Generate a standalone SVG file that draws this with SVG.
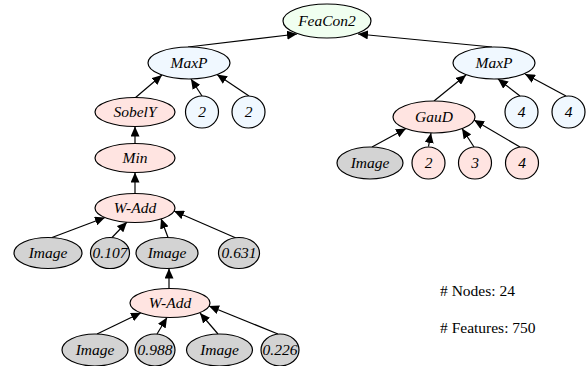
<svg xmlns="http://www.w3.org/2000/svg" width="587" height="366" viewBox="0 0 587 366">
<defs>
<marker id="arr" markerUnits="userSpaceOnUse" markerWidth="11" markerHeight="9" refX="10" refY="4.5" orient="auto">
<path d="M0,0 L10,4.5 L0,9 z" fill="#000"/>
</marker>
<style>
.n ellipse{stroke:#000;stroke-width:1.2}
.g ellipse{fill:#f0fff0}
.b ellipse{fill:#f0f8ff}
.r ellipse{fill:#ffe4e1}
.k ellipse{fill:#d3d3d3}
.n text{font-style:italic;font-size:15.5px;text-anchor:middle;fill:#000}
#edges line{stroke:#000;stroke-width:1.2;marker-end:url(#arr)}
.info{font-size:15.5px;fill:#000}
</style>
</defs>
<rect width="587" height="366" fill="#fff"/>
<g id="edges">
<line x1="188" y1="47" x2="297" y2="34"/>
<line x1="492" y1="47" x2="358" y2="34"/>
<line x1="135" y1="98" x2="162" y2="75"/>
<line x1="202" y1="96" x2="191" y2="79"/>
<line x1="249" y1="96" x2="217" y2="74.5"/>
<line x1="135" y1="143.5" x2="135" y2="126.5"/>
<line x1="135" y1="193.5" x2="135" y2="172.5"/>
<line x1="52" y1="237.5" x2="105" y2="217.5"/>
<line x1="112" y1="237.5" x2="127" y2="222"/>
<line x1="168" y1="237.5" x2="161" y2="218.5"/>
<line x1="236" y1="238" x2="174" y2="211"/>
<line x1="169" y1="288.5" x2="169" y2="268.5"/>
<line x1="97" y1="334" x2="141" y2="312.8"/>
<line x1="157" y1="334" x2="167" y2="317.5"/>
<line x1="218" y1="334" x2="200" y2="313"/>
<line x1="278" y1="334" x2="209" y2="306"/>
<line x1="434" y1="101" x2="466" y2="75"/>
<line x1="520" y1="96" x2="498" y2="79"/>
<line x1="566" y1="96" x2="525" y2="74"/>
<line x1="372" y1="147" x2="406" y2="128.5"/>
<line x1="428.5" y1="146.5" x2="431" y2="133"/>
<line x1="474" y1="147" x2="462" y2="128.5"/>
<line x1="520" y1="147" x2="474" y2="120"/>
</g>
<g font-family="'Liberation Serif', 'DejaVu Serif', serif">
<g id="feacon2" class="n g"><ellipse cx="327" cy="21" rx="44" ry="17"/><text x="327" y="26">FeaCon2</text></g>
<g id="maxp-l" class="n b"><ellipse cx="189" cy="63" rx="41" ry="16"/><text x="189" y="68">MaxP</text></g>
<g id="maxp-r" class="n b"><ellipse cx="494" cy="63" rx="41" ry="16"/><text x="494" y="68">MaxP</text></g>
<g id="sobely" class="n r"><ellipse cx="135" cy="112" rx="40" ry="14.5"/><text x="135" y="117">SobelY</text></g>
<g id="p2a" class="n b"><ellipse cx="202" cy="112" rx="16.5" ry="16"/><text x="202" y="117">2</text></g>
<g id="p2b" class="n b"><ellipse cx="248.5" cy="112" rx="16.5" ry="16"/><text x="248.5" y="117">2</text></g>
<g id="p4a" class="n b"><ellipse cx="521.5" cy="112" rx="16.5" ry="16"/><text x="521.5" y="117">4</text></g>
<g id="p4b" class="n b"><ellipse cx="568.5" cy="112" rx="16.5" ry="16"/><text x="568.5" y="117">4</text></g>
<g id="gaud" class="n r"><ellipse cx="434" cy="117" rx="41" ry="16"/><text x="434" y="122">GauD</text></g>
<g id="min" class="n r"><ellipse cx="135" cy="158" rx="40" ry="14.5"/><text x="135" y="163">Min</text></g>
<g id="img-r" class="n k"><ellipse cx="370" cy="163" rx="33" ry="16"/><text x="370" y="168">Image</text></g>
<g id="g2" class="n r"><ellipse cx="428.5" cy="163" rx="16.5" ry="16"/><text x="428.5" y="168">2</text></g>
<g id="g3" class="n r"><ellipse cx="475" cy="163" rx="16.5" ry="16"/><text x="475" y="168">3</text></g>
<g id="g4" class="n r"><ellipse cx="522" cy="163" rx="16.5" ry="16"/><text x="522" y="168">4</text></g>
<g id="wadd1" class="n r"><ellipse cx="135" cy="208" rx="40" ry="14.5"/><text x="135" y="213">W-Add</text></g>
<g id="img1" class="n k"><ellipse cx="48" cy="253" rx="34" ry="15.5"/><text x="48" y="258">Image</text></g>
<g id="v107" class="n k"><ellipse cx="110" cy="253" rx="19.5" ry="15.5"/><text x="110" y="258">0.107</text></g>
<g id="img2" class="n k"><ellipse cx="167" cy="253" rx="31" ry="15.5"/><text x="167" y="258">Image</text></g>
<g id="v631" class="n k"><ellipse cx="239" cy="253" rx="20.5" ry="15.5"/><text x="239" y="258">0.631</text></g>
<g id="wadd2" class="n r"><ellipse cx="170" cy="303" rx="40" ry="14.5"/><text x="170" y="308">W-Add</text></g>
<g id="img3" class="n k"><ellipse cx="95" cy="350" rx="33" ry="16"/><text x="95" y="355">Image</text></g>
<g id="v988" class="n k"><ellipse cx="155" cy="350" rx="20" ry="16"/><text x="155" y="355">0.988</text></g>
<g id="img4" class="n k"><ellipse cx="219.5" cy="350" rx="33" ry="16"/><text x="219.5" y="355">Image</text></g>
<g id="v226" class="n k"><ellipse cx="280" cy="350" rx="19" ry="16"/><text x="280" y="355">0.226</text></g>
<text class="info" x="440" y="296"># Nodes: 24</text>
<text class="info" x="440" y="333"># Features: 750</text>
</g>
</svg>
